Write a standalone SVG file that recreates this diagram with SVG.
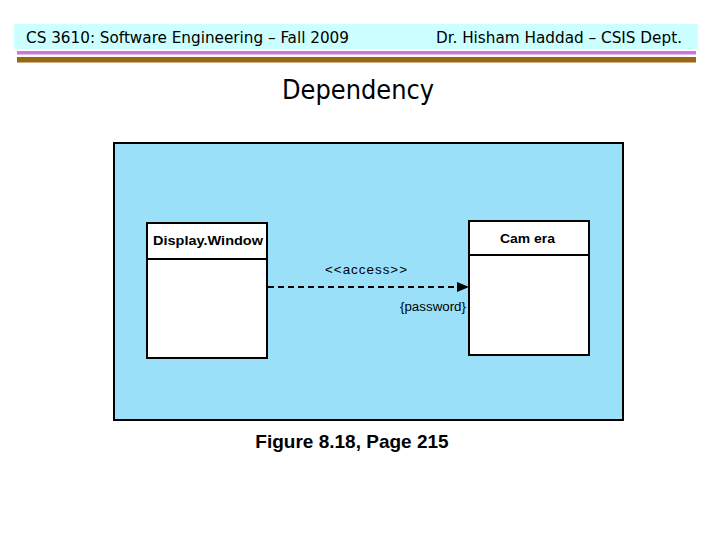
<svg xmlns="http://www.w3.org/2000/svg" width="720" height="540" viewBox="0 0 720 540">
<style>
.hdr{font-family:"DejaVu Sans Condensed","DejaVu Sans",sans-serif;font-size:15px;fill:#000}
.cls{fill:#fff;stroke:#000;stroke-width:2}
.cname{font-family:"Liberation Sans",Arial,sans-serif;font-size:13px;font-weight:bold;fill:#000}
.lbl{font-family:"Liberation Sans",Arial,sans-serif;fill:#000}
</style>
<defs>
<marker id="arr" markerWidth="12" markerHeight="10" refX="11" refY="5" orient="auto" markerUnits="userSpaceOnUse">
<path d="M0,0 L12,5 L0,10 Z" fill="#000"/>
</marker>
</defs>
<rect width="720" height="540" fill="#fff"/>
<g id="header">
<rect x="14" y="24" width="684" height="25" fill="#ccffff"/>
<rect x="17" y="51" width="679" height="3.5" fill="#cc77dd"/>
<rect x="17" y="57" width="679" height="5.5" fill="#996611"/>
<text class="hdr" x="26" y="43" textLength="323" lengthAdjust="spacingAndGlyphs">CS 3610: Software Engineering – Fall 2009</text>
<text class="hdr" x="436" y="43" textLength="246" lengthAdjust="spacingAndGlyphs">Dr. Hisham Haddad – CSIS Dept.</text>
</g>
<text x="358" y="99" text-anchor="middle" font-family="DejaVu Sans Condensed, DejaVu Sans, sans-serif" font-size="26" textLength="152" lengthAdjust="spacingAndGlyphs">Dependency</text>
<g id="frame">
<rect x="114" y="143" width="509" height="277" fill="#99e0f8" stroke="#000" stroke-width="2"/>
</g>
<g id="DisplayWindow">
<rect class="cls" x="147" y="223" width="120" height="135"/>
<line x1="147" y1="259" x2="267" y2="259" stroke="#000" stroke-width="2"/>
<text class="cname" x="153" y="245" textLength="110" lengthAdjust="spacingAndGlyphs">Display.Window</text>
</g>
<g id="Camera">
<rect class="cls" x="469" y="221" width="120" height="134"/>
<line x1="469" y1="255" x2="589" y2="255" stroke="#000" stroke-width="2"/>
<text class="cname" x="500" y="243" textLength="55" lengthAdjust="spacingAndGlyphs">Cam era</text>
</g>
<g id="connectors">
<line x1="268" y1="287" x2="468" y2="287" stroke="#000" stroke-width="2" stroke-dasharray="6,4" marker-end="url(#arr)"/>
<text class="lbl" x="325" y="274" font-size="13" letter-spacing="1" textLength="83" lengthAdjust="spacingAndGlyphs">&lt;&lt;access&gt;&gt;</text>
<text class="lbl" x="400" y="311" font-size="12" textLength="66" lengthAdjust="spacingAndGlyphs">{password}</text>
</g>
<text class="lbl" x="352" y="448" font-size="19" font-weight="bold" text-anchor="middle">Figure 8.18, Page 215</text>
</svg>
